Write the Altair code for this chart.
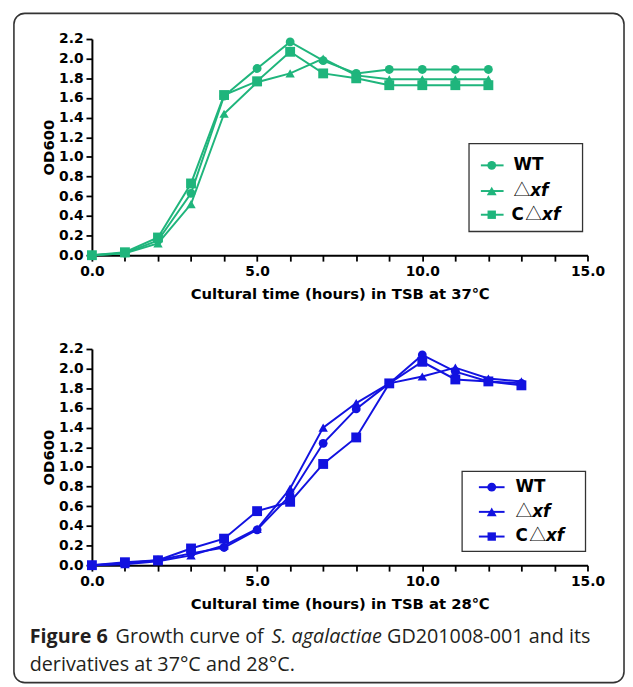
import altair as alt
import pandas as pd

# ---------------- data ----------------
strains = ["WT", "dxf", "Cdxf"]

hours_37 = [0, 1, 2, 3, 4, 5, 6, 7, 8, 9, 10, 11, 12]
wt_37 = [0.0, 0.02, 0.15, 0.63, 1.62, 1.90, 2.17, 1.98, 1.85, 1.89, 1.89, 1.89, 1.89]
dxf_37 = [0.0, 0.02, 0.12, 0.52, 1.44, 1.76, 1.85, 2.00, 1.83, 1.79, 1.79, 1.79, 1.79]
cdxf_37 = [0.0, 0.03, 0.18, 0.73, 1.63, 1.77, 2.07, 1.85, 1.80, 1.73, 1.73, 1.73, 1.73]

hours_28 = [0, 1, 2, 3, 4, 5, 6, 7, 8, 9, 10, 11, 12, 13]
wt_28 = [0.0, 0.02, 0.05, 0.12, 0.18, 0.36, 0.71, 1.24, 1.59, 1.85, 2.14, 1.97, 1.87, 1.85]
dxf_28 = [0.0, 0.01, 0.04, 0.10, 0.20, 0.37, 0.78, 1.40, 1.65, 1.85, 1.92, 2.01, 1.90, 1.87]
cdxf_28 = [0.0, 0.03, 0.05, 0.17, 0.27, 0.55, 0.645, 1.03, 1.30, 1.85, 2.07, 1.89, 1.87, 1.83]

x_ticks = list(range(16))
y_ticks = [0.0, 0.2, 0.4, 0.6, 0.8, 1.0, 1.2, 1.4, 1.6, 1.8, 2.0, 2.2]

GREEN = "#1fb57c"
BLUE = "#1212e0"
AX_FONT = "DejaVu Sans"
TRI_FONT = "Noto Sans CJK SC"
CAP_FONT = "Open Sans"

shape_range = ["circle", "triangle-up", "square"]
size_range = [80, 100, 72]


def long_df(hours, series):
    rows = []
    for name, vals in zip(strains, series):
        for h, v in zip(hours, vals):
            rows.append({"hour": h, "od": v, "strain": name})
    return pd.DataFrame(rows)


one = pd.DataFrame({"k": [0]})

W, H = 502, 219


def legend_layers(color, box, line_x, mark_x, ys, segs):
    layers = []
    layers.append(
        alt.Chart(one).mark_rect(fill="white", stroke="#333333", strokeWidth=1.3).encode(
            x=alt.value(box[0]), x2=alt.value(box[1]), y=alt.value(box[2]), y2=alt.value(box[3])
        )
    )
    for i, yv in enumerate(ys):
        layers.append(
            alt.Chart(one).mark_rule(color=color, strokeWidth=2).encode(
                x=alt.value(line_x[0]), x2=alt.value(line_x[1]), y=alt.value(yv)
            )
        )
        layers.append(
            alt.Chart(one).mark_point(
                shape=shape_range[i], filled=True, opacity=1, color=color, size=size_range[i]
            ).encode(x=alt.value(mark_x), y=alt.value(yv))
        )
        for txt, xv, style in segs[i]:
            kw = dict(fontWeight="bold", fontStyle="normal", font=AX_FONT, fontSize=17)
            if style == "bi":
                kw = dict(fontWeight="bold", fontStyle="italic", font=AX_FONT, fontSize=17)
            elif style == "tri":
                kw = dict(fontWeight="normal", fontStyle="normal", font=TRI_FONT, fontSize=17)
            layers.append(
                alt.Chart(one).mark_text(
                    text=txt, align="left", baseline="middle", color="black", **kw
                ).encode(x=alt.value(xv), y=alt.value(yv))
            )
    return layers


def panel(df, color, xtitle, extra_before, extra_after):
    base = alt.Chart(df)
    x = alt.X(
        "hour:Q",
        scale=alt.Scale(domain=[0, 15], nice=False, zero=False),
        axis=alt.Axis(
            values=x_ticks,
            labelExpr="datum.value % 5 === 0 ? format(datum.value, '.1f') : ''",
            labelFlush=False,
            title=xtitle,
            labelPadding=4,
            titlePadding=8,
        ),
    )
    y = alt.Y(
        "od:Q",
        scale=alt.Scale(domain=[0, 2.2], nice=False),
        axis=alt.Axis(values=y_ticks, format=".1f", title="OD600", labelPadding=3,
                      titlePadding=2, labelFlush=False),
    )
    lines = base.mark_line(color=color, strokeWidth=2).encode(x=x, y=y, detail="strain:N")
    pts = base.mark_point(filled=True, opacity=1, color=color).encode(
        x=x,
        y=y,
        shape=alt.Shape("strain:N", scale=alt.Scale(domain=strains, range=shape_range), legend=None),
        size=alt.Size("strain:N", scale=alt.Scale(domain=strains, range=size_range), legend=None),
    )
    return alt.layer(*extra_before, lines, pts, *extra_after).properties(width=W, height=H)


frame = alt.Chart(one).mark_rect(
    fill="white", fillOpacity=0, stroke="#333333", strokeWidth=1.6, cornerRadius=11
).encode(x=alt.value(-79), x2=alt.value(539), y=alt.value(-26), y2=alt.value(652))

top_legend = legend_layers(
    GREEN,
    box=(382, 497, 106, 195),
    line_x=(394, 417),
    mark_x=405,
    ys=[128, 154, 178],
    segs=[
        [("WT", 427, "b")],
        [("△", 427, "tri"), ("xf", 444, "bi")],
        [("C", 425, "b"), ("△", 439, "tri"), ("xf", 456, "bi")],
    ],
)

bottom_legend = legend_layers(
    BLUE,
    box=(375, 500, 124, 205),
    line_x=(392, 418),
    mark_x=405,
    ys=[140, 165, 190],
    segs=[
        [("WT", 429, "b")],
        [("△", 429, "tri"), ("xf", 446, "bi")],
        [("C", 429, "b"), ("△", 443, "tri"), ("xf", 460, "bi")],
    ],
)

caption_segments = [
    ("Figure 6", -63, 298, "bold", "normal"),
    ("Growth curve of", 24, 298, "normal", "normal"),
    ("S. agalactiae", 182, 298, "normal", "italic"),
    ("GD201008-001 and its", 299, 298, "normal", "normal"),
    ("derivatives at 37°C and 28°C.", -63, 326, "normal", "normal"),
]
caption = [
    alt.Chart(one).mark_text(
        text=t, align="left", baseline="alphabetic", font=CAP_FONT, fontSize=20,
        fontWeight=fw, fontStyle=fs, color="#231f20"
    ).encode(x=alt.value(xv), y=alt.value(yv))
    for t, xv, yv, fw, fs in caption_segments
]

top = panel(long_df(hours_37, [wt_37, dxf_37, cdxf_37]), GREEN,
            "Cultural time (hours) in TSB at 37℃", [frame], top_legend)
bottom = panel(long_df(hours_28, [wt_28, dxf_28, cdxf_28]), BLUE,
               "Cultural time (hours) in TSB at 28℃", [], bottom_legend + caption)

chart = (
    alt.vconcat(top, bottom, spacing=95, bounds="flush")
    .properties(padding={"left": 5, "top": 0, "right": 0, "bottom": 0}, background="white")
    .configure(padding={"left": 5, "top": 0, "right": 0, "bottom": 0})
    .configure_view(stroke=None)
    .configure_axis(
        grid=False,
        domainColor="black",
        domainWidth=2,
        tickColor="black",
        tickWidth=1.8,
        tickSize=6,
        labelFont=AX_FONT,
        labelFontWeight="bold",
        labelFontSize=14,
        labelColor="black",
        titleFont=AX_FONT,
        titleFontWeight="bold",
        titleFontSize=15,
        titleColor="black",
    )
)

chart.save("out.html", embed_options={"renderer": "svg", "actions": False})
